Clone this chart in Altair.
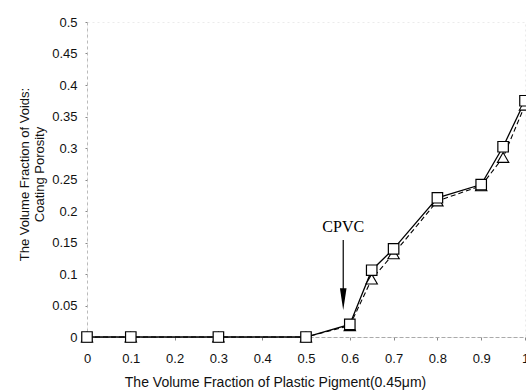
import altair as alt
import pandas as pd

# Data
x_vals = [0, 0.1, 0.3, 0.5, 0.6, 0.65, 0.7, 0.8, 0.9, 0.95, 1.0]
squares = [0, 0, 0, 0, 0.02, 0.106, 0.14, 0.221, 0.242, 0.302, 0.375]
triangles = [0, 0, 0, 0, 0.018, 0.092, 0.132, 0.216, 0.24, 0.285, 0.368]
x_ticks = [0, 0.1, 0.2, 0.3, 0.4, 0.5, 0.6, 0.7, 0.8, 0.9, 1.0]
y_ticks = [0, 0.05, 0.1, 0.15, 0.2, 0.25, 0.3, 0.35, 0.4, 0.45, 0.5]

cpvc_x = [0.585]
cpvc_text_y = [0.175]
cpvc_line_top = [0.154]
cpvc_line_bottom = [0.07]
cpvc_head_y = [0.06]

sq_df = pd.DataFrame({"x": x_vals, "y": squares})
tr_df = pd.DataFrame({"x": x_vals, "y": triangles})
ann_df = pd.DataFrame({"x": cpvc_x, "ty": cpvc_text_y, "y1": cpvc_line_top,
                       "y2": cpvc_line_bottom, "hy": cpvc_head_y, "label": ["CPVC"]})

FONT = "Liberation Sans"

xscale = alt.Scale(domain=[0, 1], nice=False, zero=False)
yscale = alt.Scale(domain=[0, 0.5], nice=False)

x_axis = alt.Axis(
    values=x_ticks, labelExpr="format(datum.value, '.1~f')", grid=False,
    title="The Volume Fraction of Plastic Pigment(0.45μm)",
    titleFont=FONT, titleFontSize=14, titleFontWeight="normal", titleColor="#111",
    titleX=188, titleY=45, titleAlign="center", titleBaseline="middle",
    labelFont=FONT, labelFontSize=13, labelColor="#111", labelPadding=12,
    labelFlush=False, labelBound=False, labelOverlap=False,
    tickSize=3, tickColor="#888", domainColor="#aaa", domainDash=[4, 2],
)
y_axis = alt.Axis(
    values=y_ticks, labelExpr="format(datum.value, '.2~f')", grid=False,
    title=["The Volume Fraction of Voids:", "Coating Porosity"],
    titleFont=FONT, titleFontSize=13, titleFontWeight="normal", titleColor="#111",
    titleX=-63, titleY=152, titleAngle=-90, titleAlign="center", titleBaseline="middle",
    titleLineHeight=15,
    labelFont=FONT, labelFontSize=13, labelColor="#111", labelPadding=8,
    labelFlush=False, labelBound=False, labelOverlap=False,
    tickSize=2, tickColor="#888", domainColor="#bbb", domainDash=[3, 3],
)


def X(field):
    return alt.X(field, type="quantitative", scale=xscale, axis=x_axis)


def Y(field):
    return alt.Y(field, type="quantitative", scale=yscale, axis=y_axis)


base_sq = alt.Chart(sq_df)
base_tr = alt.Chart(tr_df)

line_tr = base_tr.mark_line(color="black", strokeWidth=1.1, strokeDash=[5, 3]).encode(
    x=X("x"), y=Y("y")
)
line_sq = base_sq.mark_line(color="black", strokeWidth=1.3).encode(x=X("x"), y=Y("y"))
pts_tr = base_tr.mark_point(shape="triangle-up", size=130, fill="white", fillOpacity=1,
                            stroke="black", strokeWidth=1.1, opacity=1).encode(
    x=X("x"), y=Y("y")
)
pts_sq = base_sq.mark_point(shape="square", size=110, fill="white", fillOpacity=1,
                            stroke="black", strokeWidth=1.2, opacity=1).encode(
    x=X("x"), y=Y("y")
)

ann = alt.Chart(ann_df)
txt = ann.mark_text(font="Liberation Serif", fontSize=16, color="black",
                    baseline="middle", align="center").encode(
    x=X("x"), y=Y("ty"), text="label:N"
)
rule = ann.mark_rule(color="black", strokeWidth=1.2).encode(
    x=X("x"), y=Y("y1"), y2="y2:Q"
)
head = ann.mark_point(shape="M-0.3,-1L0.3,-1L0,1Z", size=484, filled=True,
                      color="black", opacity=1).encode(
    x=X("x"), y=Y("hy")
)

chart = alt.layer(line_tr, line_sq, pts_tr, pts_sq, rule, head, txt).properties(
    width=438, height=315,
    autosize=alt.AutoSizeParams(type="none"),
    padding={"left": 87, "top": 22, "right": 1, "bottom": 53},
    background="white",
).configure_view(stroke="#ebebeb", strokeDash=[2, 3], strokeWidth=1)

chart.save("out.html", embed_options={"renderer": "svg", "actions": False})
